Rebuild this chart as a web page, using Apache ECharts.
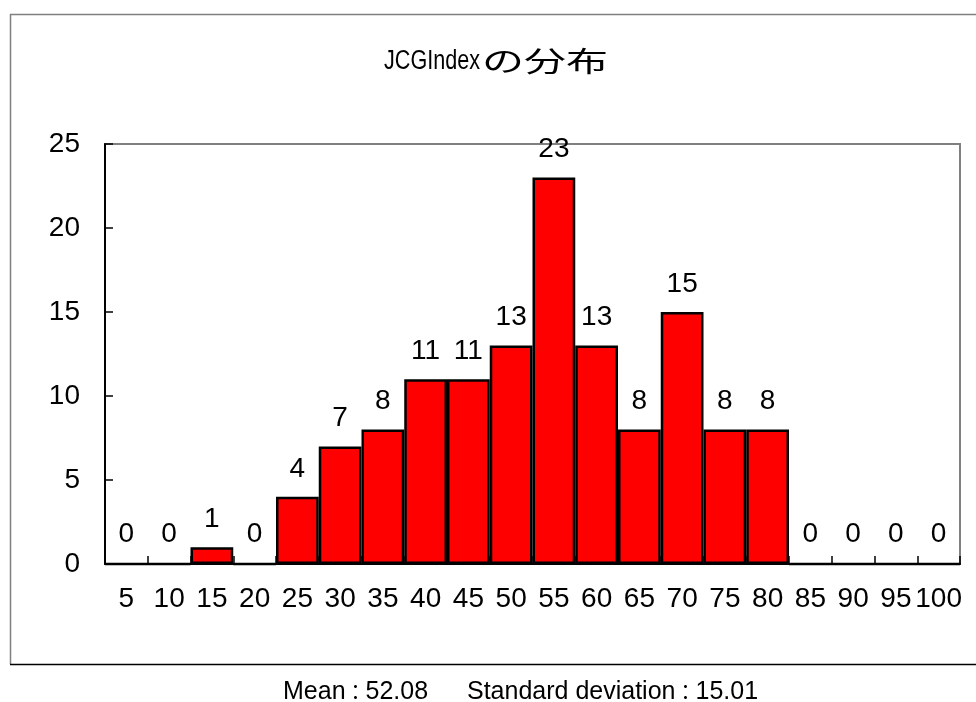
<!DOCTYPE html>
<html>
<head>
<meta charset="utf-8">
<script src="https://cdn.jsdelivr.net/npm/echarts@6/dist/echarts.min.js"></script>
<style>
  html, body { margin: 0; padding: 0; background: #fff; }
  #chart { width: 976px; height: 702px; }
</style>
</head>
<body>
<div id="chart"></div>
<script>
// Histogram bins (upper bound of each 5-point class) and their counts
const binLabels = ['5','10','15','20','25','30','35','40','45','50','55','60','65','70','75','80','85','90','95','100'];
const counts = [0, 0, 1, 0, 4, 7, 8, 11, 11, 13, 23, 13, 8, 15, 8, 8, 0, 0, 0, 0];
const yTicks = [0, 5, 10, 15, 20, 25];
const titleLatin = 'JCGIndex';
const titleKana = 'の分布';
const meanText = '52.08';
const sdText = '15.01';

const FONT = '"Liberation Sans", Arial, "Noto Sans CJK JP", sans-serif';
const CJK = '"Noto Sans CJK JP", sans-serif';

const chart = echarts.init(document.getElementById('chart'), null, { renderer: 'canvas' });

chart.setOption({
  animation: false,
  backgroundColor: '#fff',
  textStyle: { fontFamily: FONT },
  grid: {
    left: 105, top: 144, width: 855, height: 420,
    show: true, borderColor: '#808080', borderWidth: 2, backgroundColor: 'transparent'
  },
  xAxis: {
    type: 'category',
    data: binLabels,
    boundaryGap: true,
    axisLine: { lineStyle: { color: '#000', width: 2 } },
    axisTick: { show: true, inside: true, length: 8, lineStyle: { color: '#000', width: 1.5 } },
    axisLabel: { color: '#000', fontSize: 28, fontFamily: FONT, margin: 21, interval: 0 },
    splitLine: { show: false }
  },
  yAxis: {
    type: 'value',
    min: yTicks[0], max: yTicks[yTicks.length - 1], interval: 5,
    axisLine: { show: true, lineStyle: { color: '#000', width: 2 } },
    axisTick: { show: true, inside: true, length: 8, lineStyle: { color: '#000', width: 1.5 } },
    axisLabel: { color: '#000', fontSize: 28, fontFamily: FONT, margin: 25 },
    splitLine: { show: false }
  },
  series: [{
    type: 'bar',
    data: counts,
    barWidth: '100%',
    barGap: '0%',
    barCategoryGap: '0%',
    itemStyle: { color: '#ff0000', borderColor: '#000', borderWidth: 2.5 },
    label: {
      show: true, position: 'top', distance: 14,
      color: '#000', fontSize: 28, fontFamily: FONT
    }
  }],
  graphic: [
    // outer chart frame
    { type: 'line', shape: { x1: 10, y1: 14.5, x2: 976, y2: 14.5 }, style: { stroke: '#808080', lineWidth: 1.5 }, silent: true },
    { type: 'line', shape: { x1: 10.5, y1: 14, x2: 10.5, y2: 664 }, style: { stroke: '#808080', lineWidth: 1.5 }, silent: true },
    { type: 'line', shape: { x1: 10, y1: 664.5, x2: 976, y2: 664.5 }, style: { stroke: '#000', lineWidth: 1.5 }, silent: true },
    // chart title: latin part and kana/kanji part
    {
      type: 'text', x: 384, y: 48, scaleX: 0.8,
      style: { text: titleLatin, fill: '#000', font: '27px ' + FONT, verticalAlign: 'top' }
    },
    {
      type: 'text', x: 482, y: 47, scaleX: 1.5,
      style: { text: titleKana, fill: '#000', font: '28px ' + CJK, verticalAlign: 'top' }
    },
    // summary statistics below the frame
    {
      type: 'text', x: 283, y: 680,
      style: {
        text: 'Mean{c|：}' + meanText + '　  Standard deviation{c|：}' + sdText,
        fill: '#000', font: '25px ' + FONT, verticalAlign: 'top',
        rich: { c: { fontSize: 20, fontFamily: CJK, fill: '#000' } }
      }
    }
  ]
});
</script>
</body>
</html>
